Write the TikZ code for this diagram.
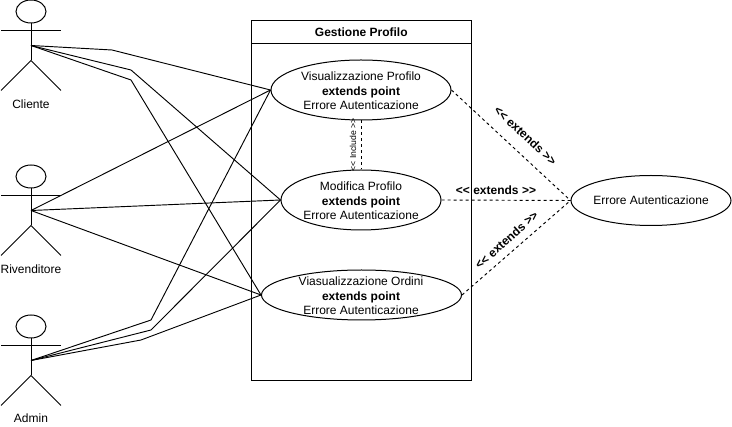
\documentclass[tikz,border=0pt]{standalone}
\usepackage{fontspec}
\setmainfont{Liberation Sans}
\usetikzlibrary{shapes.geometric}
\tikzset{
  x=0.75pt,y=-0.75pt,
  line width=0.75pt,
  base/.style={font=\fontsize{9}{10.9}\selectfont,align=center,inner sep=0pt},
  usecase/.style={ellipse,draw,fill=white,inner sep=0pt},
  link/.style={draw,line width=0.7pt},
  ext/.style={draw,line width=0.7pt,dash pattern=on 2.25pt off 2.25pt},
  extlab/.style={base,font=\fontsize{9}{10.9}\selectfont\bfseries},
  inclab/.style={base,font=\fontsize{6.5}{7.5}\selectfont,rotate=90},
}
\newcommand{\opn}{<\kern0pt<}
\newcommand{\cls}{>\kern0pt>}
\newcommand{\stickman}[3]{%
  \draw (31,#1) ellipse [x radius=15,y radius=11.5];
  \coordinate (#2) at (31,#1+34);
  \draw (31,#1+11.5) -- (31,#1+49);
  \draw (1,#1+19) -- (61,#1+19);
  \draw (1,#1+79) -- (31,#1+49) -- (61,#1+79);
  \node[base] (#2lab) at (31,#1+#3) {\csname lab#2\endcsname};
}
\newcommand{\labcl}{Cliente}
\newcommand{\labri}{Rivenditore}
\newcommand{\labad}{Admin}
\begin{document}
\begin{tikzpicture}[line width=0.75pt]
\useasboundingbox (0,0) rectangle (732,427);
\fill[white] (0,0) rectangle (732,427);
% system box
\node[draw,minimum width=165pt,minimum height=270pt,inner sep=0pt,anchor=north west] (sys) at (250.8,20) {};
\node[draw,minimum width=165pt,minimum height=17.25pt,inner sep=0pt,anchor=north west,extlab] (title) at (250.8,20) {Gestione Profilo};
% use cases
\node[usecase,minimum width=135pt,minimum height=45pt] (vp) at (361,90) {};
\node[usecase,minimum width=120pt,minimum height=45pt] (mp) at (361,200) {};
\node[usecase,minimum width=150pt,minimum height=37.5pt] (vo) at (361.5,295) {};
\node[usecase,minimum width=120pt,minimum height=37.5pt] (ea) at (651,200.5) {};
% actors
\stickman{11.5}{cl}{92.5}
\stickman{176.5}{ri}{93}
\stickman{326.5}{ad}{92}
% connectors
\draw[link] (cl) -- (112,50) -- (vp.west);
\draw[link] (cl) -- (131,70) -- (mp.west);
\draw[link] (cl) -- (131,80) -- (vo.west);
\draw[link] (ri) -- (vp.west);
\draw[link] (ri) -- (mp.west);
\draw[link] (ri) -- (vo.west);
\draw[link] (ad) -- (151,320) -- (vp.west);
\draw[link] (ad) -- (151,330) -- (mp.west);
\draw[link] (ad) -- (141,340) -- (vo.west);
\draw[ext] (vp.east) -- (ea.west);
\draw[ext] (mp.east) -- (ea.west);
\draw[ext] (vo.east) -- (ea.west);
\draw[ext] (vp.south) -- (mp.north);
% use-case texts
\node[base] (vpt) at (361,91) {Visualizzazione Profilo\\\textbf{extends point}\\Errore Autenticazione};
\node[base] (mpt) at (361,201) {Modifica Profilo\\\textbf{extends point}\\Errore Autenticazione};
\node[base] (vot) at (361,296) {Viasualizzazione Ordini\\\textbf{extends point}\\Errore Autenticazione};
\node[base] (eat) at (ea.center) {Errore Autenticazione};
% connector labels
\node[inclab] (il) at (353,145) {\opn{} Include \cls};
\node[extlab] (e1) at (525.5,135.5) [rotate=-43] {\opn{} extends \cls};
\node[extlab] (e2) at (496,190) {\opn{} extends \cls};
\node[extlab] (e3) at (506.5,240) [rotate=42] {\opn{} extends \cls};
\end{tikzpicture}
\end{document}
